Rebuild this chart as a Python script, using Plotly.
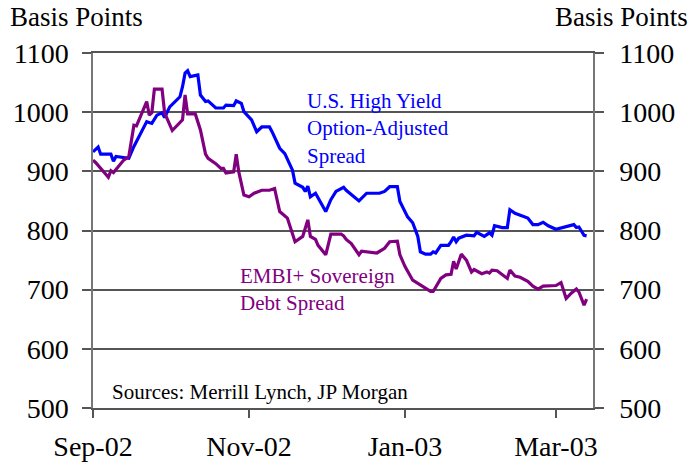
import plotly.graph_objects as go

# U.S. High Yield option-adjusted spread (basis points)
hy_dates = [
    "2002-09-01", "2002-09-03", "2002-09-04", "2002-09-08", "2002-09-09", "2002-09-10",
    "2002-09-15", "2002-09-17", "2002-09-22", "2002-09-24", "2002-09-26", "2002-09-28",
    "2002-09-29", "2002-10-01", "2002-10-05", "2002-10-06", "2002-10-07", "2002-10-08",
    "2002-10-09", "2002-10-12", "2002-10-13", "2002-10-15", "2002-10-16", "2002-10-17",
    "2002-10-19", "2002-10-22", "2002-10-23", "2002-10-26", "2002-10-27", "2002-10-29",
    "2002-10-30", "2002-11-02", "2002-11-04", "2002-11-06", "2002-11-09", "2002-11-10",
    "2002-11-13", "2002-11-15", "2002-11-18", "2002-11-19", "2002-11-22", "2002-11-23",
    "2002-11-24", "2002-11-25", "2002-11-27", "2002-12-01", "2002-12-03", "2002-12-05",
    "2002-12-07", "2002-12-08", "2002-12-09", "2002-12-14", "2002-12-17", "2002-12-22",
    "2002-12-24", "2002-12-26", "2002-12-29", "2002-12-30", "2003-01-02", "2003-01-04",
    "2003-01-06", "2003-01-07", "2003-01-09", "2003-01-11", "2003-01-12", "2003-01-13",
    "2003-01-15", "2003-01-18", "2003-01-19", "2003-01-20", "2003-01-21", "2003-01-22",
    "2003-01-25", "2003-01-28", "2003-01-29", "2003-02-01", "2003-02-03", "2003-02-04",
    "2003-02-05", "2003-02-08", "2003-02-10", "2003-02-11", "2003-02-13", "2003-02-18",
    "2003-02-20", "2003-02-22", "2003-02-24", "2003-02-26", "2003-03-01", "2003-03-04",
    "2003-03-08", "2003-03-09", "2003-03-10", "2003-03-12", "2003-03-13",
]
hy_spread = [
    933, 941, 929, 929, 917, 925,
    922, 942, 984, 981, 995, 999,
    991, 1009, 1026, 1043, 1066, 1070,
    1060, 1063, 1029, 1018, 1019, 1015,
    1007, 1007, 1012, 1011, 1019, 1015,
    1001, 987, 967, 975, 975, 967,
    939, 930, 902, 880, 873, 866,
    875, 857, 863, 832, 852, 866,
    871, 873, 868, 850, 863, 863,
    866, 874, 874, 849, 823, 813,
    790, 764, 760, 760, 764, 762,
    775, 775, 781, 789, 781, 787,
    792, 791, 797, 790, 796, 792,
    808, 805, 805, 835, 829, 821,
    810, 810, 814, 808, 802, 806,
    810, 805, 806, 792, 791,
]

# EMBI+ sovereign debt spread (basis points)
embi_dates = [
    "2002-09-01", "2002-09-02", "2002-09-07", "2002-09-08", "2002-09-09", "2002-09-13",
    "2002-09-15", "2002-09-17", "2002-09-18", "2002-09-21", "2002-09-22", "2002-09-23",
    "2002-09-24", "2002-09-25", "2002-09-28", "2002-09-29", "2002-10-02", "2002-10-06",
    "2002-10-07", "2002-10-08", "2002-10-11", "2002-10-13", "2002-10-15", "2002-10-16",
    "2002-10-19", "2002-10-21", "2002-10-22", "2002-10-23", "2002-10-26", "2002-10-27",
    "2002-10-28", "2002-10-30", "2002-11-01", "2002-11-03", "2002-11-06", "2002-11-09",
    "2002-11-11", "2002-11-13", "2002-11-16", "2002-11-19", "2002-11-22", "2002-11-24",
    "2002-11-25", "2002-11-27", "2002-11-28", "2002-12-01", "2002-12-03", "2002-12-07",
    "2002-12-08", "2002-12-09", "2002-12-11", "2002-12-14", "2002-12-15", "2002-12-21",
    "2002-12-24", "2002-12-26", "2002-12-29", "2002-12-30", "2003-01-01", "2003-01-04",
    "2003-01-08", "2003-01-11", "2003-01-12", "2003-01-15", "2003-01-17", "2003-01-19",
    "2003-01-20", "2003-01-21", "2003-01-23", "2003-01-25", "2003-01-27", "2003-01-28",
    "2003-01-31", "2003-02-02", "2003-02-03", "2003-02-04", "2003-02-06", "2003-02-10",
    "2003-02-11", "2003-02-13", "2003-02-15", "2003-02-18", "2003-02-20", "2003-02-22",
    "2003-02-24", "2003-03-01", "2003-03-03", "2003-03-05", "2003-03-07", "2003-03-09",
    "2003-03-10", "2003-03-12", "2003-03-13",
]
embi_spread = [
    919, 915, 890, 901, 898, 919,
    925, 978, 977, 1009, 1018, 995,
    999, 1039, 1039, 999, 969, 987,
    1029, 997, 997, 970, 929, 922,
    913, 905, 905, 897, 899, 929,
    899, 860, 857, 863, 868, 868,
    871, 832, 821, 781, 790, 818,
    790, 785, 775, 759, 794, 794,
    791, 785, 778, 759, 765, 762,
    770, 781, 782, 759, 739, 716,
    705, 697, 697, 719, 725, 726,
    748, 735, 760, 750, 730, 734,
    727, 730, 728, 733, 732, 719,
    733, 723, 721, 714, 706, 701,
    706, 707, 712, 685, 694, 701,
    696, 674, 684,
]

# Axis ticks
x_tick_dates = ["2002-09-01", "2002-11-01", "2003-01-01", "2003-03-01"]
x_tick_labels = ["Sep-02", "Nov-02", "Jan-03", "Mar-03"]
y_ticks = [500, 600, 700, 800, 900, 1000, 1100]

SERIF = "Liberation Serif, Times New Roman, serif"
BLUE = "#0000FF"
PURPLE = "#800080"
X_RANGE = ["2002-09-01", "2003-03-15 12:00"]
Y_RANGE = [500, 1100]

fig = go.Figure()
fig.add_trace(go.Scatter(
    x=hy_dates, y=hy_spread, mode="lines",
    line=dict(color=BLUE, width=3.2), name="U.S. High Yield", yaxis="y",
))
fig.add_trace(go.Scatter(
    x=embi_dates, y=embi_spread, mode="lines",
    line=dict(color=PURPLE, width=3.2), name="EMBI+", yaxis="y2",
))

y_common = dict(
    range=Y_RANGE, tickvals=y_ticks, ticks="outside", ticklen=9, tickwidth=1.5,
    tickcolor="#555555", showline=True, linecolor="#777777", linewidth=1.5,
    tickfont=dict(family=SERIF, size=28, color="black"), zeroline=False,
    fixedrange=True, automargin=False,
)

fig.update_layout(
    width=696, height=470,
    margin=dict(l=93, r=103, t=53, b=62),
    paper_bgcolor="white", plot_bgcolor="white",
    showlegend=False,
    xaxis=dict(
        type="date", range=X_RANGE, tickvals=x_tick_dates, ticktext=x_tick_labels,
        ticks="outside", ticklen=8, tickwidth=1.5, tickcolor="#555555",
        showline=True, linecolor="#555555", linewidth=1.5, mirror=True,
        showgrid=False, zeroline=False, ticklabelstandoff=5, automargin=False,
        tickfont=dict(family=SERIF, size=28, color="black"),
    ),
    yaxis=dict(side="left", showgrid=True, gridcolor="#555555", gridwidth=1.5,
               ticklabelstandoff=8, **y_common),
    yaxis2=dict(side="right", overlaying="y", showgrid=False,
                ticklabelstandoff=10, **y_common),
)

ann_font = dict(family=SERIF, size=21)
fig.add_annotation(xref="paper", yref="paper", x=0.424, y=0.905, xanchor="left",
                   yanchor="top", align="left", showarrow=False,
                   text="U.S. High Yield<br>Option-Adjusted<br>Spread",
                   font=dict(color=BLUE, **ann_font))
fig.add_annotation(xref="paper", yref="paper", x=0.29, y=0.41, xanchor="left",
                   yanchor="top", align="left", showarrow=False,
                   text="EMBI+ Sovereign<br>Debt Spread",
                   font=dict(color=PURPLE, **ann_font))
fig.add_annotation(xref="paper", yref="paper", x=0.034, y=0.045, xanchor="left",
                   yanchor="middle", showarrow=False,
                   text="Sources: Merrill Lynch, JP Morgan",
                   font=dict(color="black", **ann_font))
fig.add_annotation(xref="paper", yref="paper", x=-0.17, y=1.1, xanchor="left",
                   yanchor="middle", showarrow=False, text="Basis Points",
                   font=dict(family=SERIF, size=27, color="black"))
fig.add_annotation(xref="paper", yref="paper", x=1.194, y=1.1, xanchor="right",
                   yanchor="middle", showarrow=False, text="Basis Points",
                   font=dict(family=SERIF, size=27, color="black"))

fig.write_html("out.html")
